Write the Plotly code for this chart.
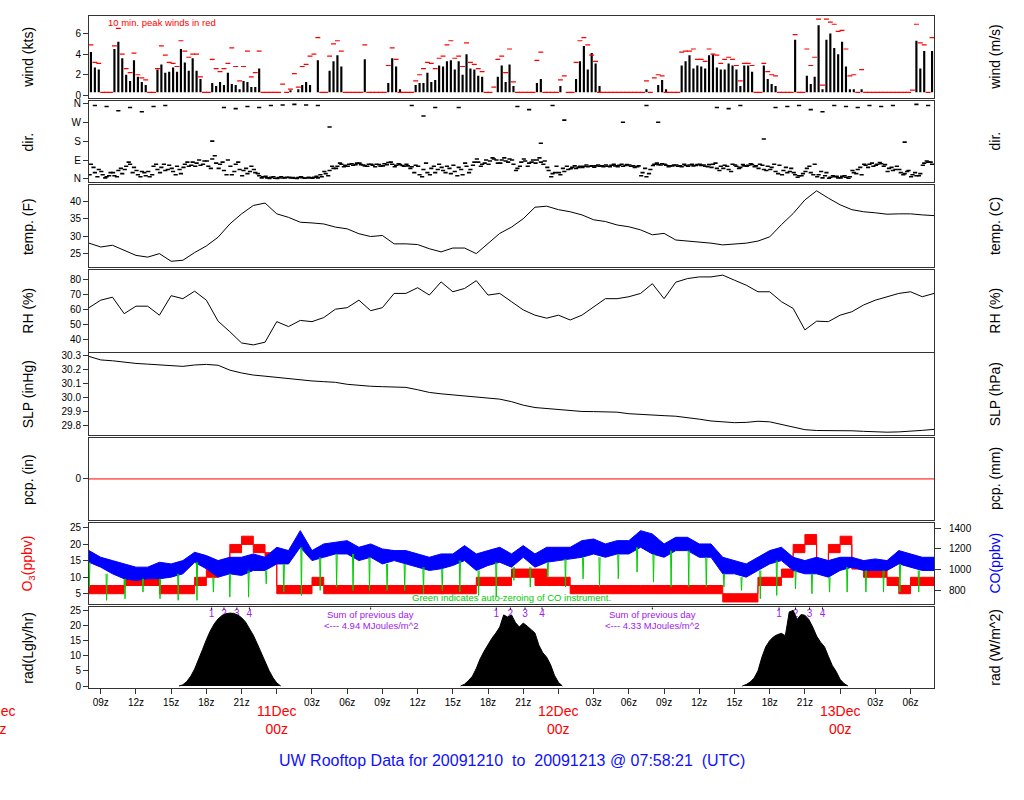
import plotly.graph_objects as go
import pandas as pd

# ---------------- data ----------------
START = pd.Timestamp("2009-12-10 08:00")
END = pd.Timestamp("2009-12-13 08:00")

# wind speed (kts), one value per 20 minutes (3 per hour)
wind_kts = [
    4.2, 2.7, 2.5,  0.3, 0.3, 0.3,  4.5, 5.2, 3.6,  2.0, 1.4, 3.4,
    1.8, 1.3, 1.0,  0.3, 0.3, 2.5,  3.0, 2.2, 2.3,  2.7, 2.3, 4.5,
    3.2, 2.4, 3.6,  2.4, 1.6, 0.3,  0.3, 1.2, 0.9,  1.3, 1.0, 2.2,
    1.1, 1.0, 0.6,  1.4, 1.3, 0.8,  0.8, 2.6, 0.3,  0.3, 0.3, 0.3,
    0.3, 0.3, 0.3,  0.5, 0.3, 0.6,  1.0, 1.3, 1.0,  0.3, 3.4, 0.3,
    0.3, 2.4, 3.3,  3.9, 2.8, 0.3,  0.3, 0.3, 0.3,  0.3, 3.5, 0.3,
    0.3, 0.3, 0.3,  0.3, 1.2, 3.6,  2.8, 0.6, 0.3,  0.3, 0.3, 1.0,
    1.2, 1.2, 2.2,  1.3, 1.5, 2.9,  2.8, 3.3, 3.4,  2.5, 3.3, 2.0,
    4.0, 2.6, 2.5,  1.9, 1.8, 0.3,  0.3, 0.3, 1.8,  2.9, 1.3, 3.0,
    0.9, 0.3, 0.3,  0.3, 0.3, 0.3,  1.2, 1.6, 0.3,  0.3, 0.3, 0.3,
    0.9, 0.3, 0.3,  0.3, 1.6, 3.3,  4.8, 2.5, 4.1,  3.1, 0.9, 0.3,
    0.3, 0.3, 0.3,  0.3, 0.3, 0.3,  0.3, 0.3, 0.3,  0.3, 0.6, 0.3,
    0.3, 1.0, 1.5,  0.6, 0.3, 0.3,  0.3, 2.9, 3.3,  3.9, 2.6, 2.9,
    2.8, 2.6, 3.9,  4.0, 2.7, 2.5,  2.5, 3.1, 2.9,  2.5, 0.9, 2.9,
    2.9, 2.3, 0.3,  0.3, 2.9, 1.6,  1.1, 0.9, 0.3,  0.3, 0.3, 0.3,
    5.4, 0.3, 0.3,  1.9, 1.1, 1.8,  6.8, 0.6, 5.4,  6.0, 4.6, 4.0,
    5.2, 2.8, 0.6,  0.6, 0.3, 0.6,  0.3, 0.3, 0.3,  0.3, 0.3, 0.3,
    0.3, 0.3, 0.3,  0.3, 0.3, 0.3,  0.3, 5.3, 2.6,  4.3, 0.3, 4.3,
]
# 10-minute peak wind (kts), one value per 20 minutes
peak_kts = [
    4.9, 3.2, 3.1,  0.3, 0.3, 0.3,  4.8, 6.5, 4.0,  2.6, 2.2, 4.1,
    2.0, 1.7, 1.5,  0.3, 0.3, 2.6,  4.8, 3.9, 3.2,  3.1, 2.8, 5.3,
    4.3, 3.7, 4.0,  4.0, 1.8, 0.3,  0.3, 3.5, 2.6,  2.3, 2.6, 3.1,
    4.6, 2.8, 1.4,  2.8, 4.3, 1.8,  2.2, 4.3, 0.3,  0.3, 0.3, 0.3,
    0.3, 1.1, 0.3,  0.6, 2.1, 0.8,  2.8, 3.0, 3.8,  4.0, 5.6, 0.3,
    0.3, 3.8, 5.0,  5.3, 4.3, 0.3,  0.3, 0.3, 0.3,  0.3, 4.9, 0.3,
    0.3, 0.3, 0.3,  0.3, 2.9, 4.6,  3.5, 0.3, 0.3,  0.3, 0.3, 1.4,
    2.0, 2.6, 3.2,  3.1, 2.6, 3.6,  3.8, 4.9, 5.3,  3.6, 3.8, 2.8,
    5.1, 3.2, 3.0,  2.6, 2.3, 0.3,  0.3, 0.8, 3.5,  3.8, 2.2, 4.5,
    1.3, 0.3, 0.3,  0.3, 0.3, 0.3,  3.4, 4.2, 0.3,  0.3, 0.3, 0.3,
    1.5, 1.9, 0.3,  0.3, 3.2, 5.3,  5.6, 4.9, 3.9,  3.3, 0.3, 0.3,
    0.3, 0.3, 0.3,  0.3, 0.3, 0.3,  0.3, 0.3, 0.3,  0.3, 1.4, 0.3,
    1.7, 2.0, 1.9,  0.3, 0.3, 0.3,  0.3, 4.2, 4.3,  4.3, 4.5, 3.5,
    3.5, 3.3, 4.5,  4.0, 3.9, 3.1,  3.5, 3.7, 3.5,  2.9, 1.4, 3.1,
    3.1, 2.9, 0.3,  0.3, 3.1, 2.3,  2.0, 1.9, 0.3,  0.3, 0.3, 0.3,
    5.9, 0.3, 0.3,  4.5, 2.9, 3.7,  7.4, 1.0, 7.4,  7.1, 6.9, 6.2,
    6.3, 4.5, 1.9,  2.0, 0.3, 2.5,  0.3, 0.3, 0.3,  0.3, 0.3, 0.3,
    0.3, 0.3, 0.3,  0.3, 0.3, 0.3,  0.5, 6.9, 5.1,  4.9, 0.3, 5.6,
]
CALM_KTS = 0.3

# wind direction (deg), main cluster, one per 20 minutes
dir_main = [
    70, 30, 45,  20, 10, 30,  15, 40, 25,  60, 70, 55,
    20, 35, 15,  10, 60, 45,  55, 40, 65,  35, 60, 25,
    70, 60, 80,  75, 65, 85,  60, 95, 75,  70, 40, 90,
    20, 70, 45,  40, 25, 60,  30, 15, 10,  5, 8, 3,
    6, 4, 8,  5, 3, 7,  6, 4, 5,  8, 5, 10,
    25, 40, 50,  60, 70, 65,  70, 65, 75,  68, 62, 70,
    65, 70, 60,  72, 78, 70,  65, 68, 60,  62, 58, 65,
    20, 45, 30,  50, 30, 70,  40, 60, 25,  35, 55, 20,
    60, 45, 80,  80, 70, 90,  85, 95, 75,  90, 85, 95,
    70, 50, 80,  85, 75, 90,  90, 80, 85,  40, 25, 60,
    20, 35, 45,  55, 50, 60,  60, 58, 62,  62, 60, 58,
    60, 65, 62,  65, 60, 68,  60, 55, 62,  30, 10, 45,
    70, 68, 72,  65, 62, 66,  60, 58, 64,  66, 62, 68,
    64, 60, 68,  70, 50, 60,  65, 45, 70,  60, 55, 62,
    65, 68, 62,  70, 45, 60,  55, 35, 65,  40, 30, 50,
    20, 15, 25,  50, 30, 70,  20, 5, 30,  8, 10, 5,
    12, 8, 10,  30, 45, 20,  65, 70, 60,  70, 72, 68,
    50, 40, 60,  30, 25, 40,  20, 15, 25,  75, 80, 70,
]
# wind direction (deg), spread of the same cluster, one per 20 minutes
dir_spread = [
    20, 55, 10,  35, 5, 15,  30, 10, 50,  45, 80, 30,
    40, 10, 30,  35, 20, 70,  30, 70, 45,  50, 20, 45,
    55, 80, 65,  60, 90, 70,  85, 50, 110,  50, 80, 20,
    60, 35, 80,  15, 50, 35,  45, 25, 5,  12, 2, 10,
    2, 10, 5,  8, 6, 2,  10, 3, 8,  3, 12, 20,
    35, 15, 60,  50, 75, 58,  60, 72, 68,  75, 66, 60,
    70, 58, 68,  62, 68, 80,  58, 72, 64,  70, 50, 30,
    60, 10, 75,  20, 60, 45,  55, 30, 50,  65, 15, 45,
    75, 30, 65,  95, 60, 75,  70, 100, 90,  75, 100, 80,
    90, 40, 60,  95, 60, 80,  75, 100, 70,  55, 10, 30,
    30, 50, 60,  48, 62, 55,  55, 66, 60,  56, 66, 62,
    66, 58, 70,  58, 70, 64,  66, 62, 58,  15, 50, 25,
    64, 75, 66,  70, 58, 62,  66, 62, 70,  60, 70, 64,
    70, 66, 58,  55, 75, 40,  50, 60, 35,  66, 50, 68,
    60, 72, 58,  50, 65, 40,  45, 70, 25,  20, 55, 35,
    30, 8, 15,  35, 60, 20,  10, 35, 15,  3, 15, 12,
    5, 15, 3,  40, 25, 55,  70, 55, 75,  65, 78, 60,
    35, 55, 45,  45, 20, 35,  10, 30, 15,  65, 85, 80,
]
# secondary direction readings, one per hour (None = no reading)
dir_alt = [
    350, 345, 325, 340, 320, 345, 350, None, None, None, 180, 340,
    335, 345, 340, 350, 352, 355, 352, 350, 247, None, None, None,
    None, None, None, 350, 300, 340, None, 340, None, None, None, None,
    345, 330, 170, 350, 280, None, None, None, None, 270, None, 350,
    270, None, None, None, None, 340, 335, 350, None, 190, 340, 345,
    350, 330, 320, 350, 345, 340, 350, 345, 350, 175, 355, 350,
]

# hourly series (73 values, 08z Dec 10 .. 08z Dec 13)
temp_f = [
    28.0, 26.9, 27.4, 26.0, 24.5, 24.0, 25.0, 22.8, 23.1, 25.3, 27.2, 29.7,
    33.5, 36.4, 38.8, 39.5, 36.4, 35.4, 34.0, 33.8, 33.5, 32.6, 32.1, 30.7,
    29.9, 30.2, 27.8, 27.8, 27.6, 26.4, 25.5, 26.6, 26.6, 25.0, 27.8, 30.8,
    32.6, 35.0, 38.3, 38.6, 37.6, 37.0, 36.1, 34.7, 34.2, 33.2, 32.7, 31.8,
    30.4, 30.8, 28.9, 28.6, 28.4, 28.0, 27.5, 27.7, 28.0, 28.6, 29.8, 33.3,
    36.5, 40.4, 43.0, 40.9, 39.0, 37.6, 37.0, 36.7, 36.3, 36.4, 36.4, 36.1,
    35.9,
]
rh_pct = [
    61, 66, 68, 57, 62, 62, 56, 69, 67, 72, 66, 52,
    45, 37.5, 36.2, 38.0, 51.7, 48.4, 52.5, 51.7, 54.4, 60, 61, 66,
    59, 61, 70.5, 70.5, 74.3, 69.4, 78.2, 71.6, 73.8, 79, 69.4, 70.5,
    65, 59.5, 56, 54, 56, 52.8, 56, 61.7, 67, 67, 68.3, 70.5,
    77, 67, 78, 80.4, 81.5, 81.5, 82.7, 79.3, 76, 71.6, 71.6, 65,
    60.5, 46.2, 52, 51.7, 56, 58.3, 62.8, 66, 68.3, 70.5, 71.6, 68.3,
    70.5,
]
slp_inhg = [
    30.293, 30.268, 30.262, 30.250, 30.243, 30.238, 30.232, 30.226, 30.222, 30.232,
    30.236, 30.230, 30.195, 30.175, 30.160, 30.152, 30.143, 30.135, 30.122, 30.118,
    30.113, 30.108, 30.094, 30.085, 30.080, 30.077, 30.075, 30.072, 30.055, 30.036,
    30.026, 30.018, 30.013, 30.005, 29.995, 29.988, 29.970, 29.945, 29.928, 29.920,
    29.914, 29.906, 29.900, 29.899, 29.897, 29.895, 29.884, 29.878, 29.874, 29.870,
    29.866, 29.858, 29.845, 29.832, 29.824, 29.820, 29.822, 29.830, 29.826, 29.808,
    29.790, 29.770, 29.764, 29.765, 29.766, 29.762, 29.758, 29.754, 29.752, 29.754,
    29.758, 29.765, 29.772,
]
pcp_in = [
    0, 0, 0, 0, 0, 0, 0, 0, 0, 0, 0, 0, 0, 0, 0, 0, 0, 0, 0, 0, 0, 0, 0, 0,
    0, 0, 0, 0, 0, 0, 0, 0, 0, 0, 0, 0, 0, 0, 0, 0, 0, 0, 0, 0, 0, 0, 0, 0,
    0, 0, 0, 0, 0, 0, 0, 0, 0, 0, 0, 0, 0, 0, 0, 0, 0, 0, 0, 0, 0, 0, 0, 0,
    0,
]
# ozone (ppbv) hourly lower / upper envelope
o3_lo = [
    5, 5, 5, 7.5, 7.5, 7.5, 5, 5, 5, 7.5, 10, 12.5,
    17.5, 20, 17.5, 15, 5, 5, 5, 7.5, 5, 5, 5, 5,
    5, 5, 5, 5, 5, 5, 5, 5, 5, 7.5, 7.5, 7.5,
    10, 10, 7.5, 7.5, 7.5, 5, 5, 5, 5, 5, 5, 5,
    5, 5, 5, 5, 5, 5, 2.5, 2.5, 2.5, 7.5, 7.5, 10,
    17.5, 20, 12.5, 17.5, 20, 12.5, 10, 10, 7.5, 5, 7.5, 7.5,
    7.5,
]
o3_hi = [
    7.5, 7.5, 7.5, 12.5, 12.5, 12.5, 7.5, 7.5, 7.5, 10, 12.5, 15,
    20, 22.5, 20, 17.5, 7.5, 7.5, 7.5, 10, 7.5, 7.5, 7.5, 7.5,
    7.5, 7.5, 7.5, 7.5, 7.5, 7.5, 7.5, 7.5, 7.5, 10, 10, 10,
    12.5, 12.5, 12.5, 10, 10, 7.5, 7.5, 7.5, 7.5, 7.5, 7.5, 7.5,
    7.5, 7.5, 7.5, 7.5, 7.5, 7.5, 5, 5, 5, 10, 10, 12.5,
    20, 23, 15, 20, 22.5, 15, 12.5, 12.5, 10, 7.5, 10, 10,
    10,
]
# carbon monoxide (ppbv) hourly lower / upper envelope
co_lo = [
    1071, 1024, 960, 912, 896, 912, 912, 928, 960, 1071, 1008, 928,
    960, 944, 992, 992, 1055, 1055, 1215, 1087, 1119, 1151, 1151, 1087,
    1119, 1055, 1087, 1055, 1024, 992, 1008, 1040, 1087, 992, 1040, 1071,
    1024, 1119, 1024, 1071, 1087, 1103, 1119, 1151, 1119, 1151, 1151, 1215,
    1151, 1119, 1183, 1183, 1119, 1119, 960, 960, 928, 992, 1055, 1087,
    992, 960, 960, 928, 992, 1024, 992, 992, 992, 1055, 1024, 992,
    992,
]
co_hi = [
    1183, 1119, 1087, 1055, 1024, 1024, 1071, 1055, 1087, 1167, 1135, 1087,
    1119, 1119, 1151, 1119, 1215, 1183, 1375, 1183, 1247, 1263, 1279, 1215,
    1247, 1199, 1183, 1183, 1151, 1119, 1151, 1151, 1231, 1151, 1183, 1215,
    1151, 1231, 1151, 1215, 1215, 1215, 1279, 1295, 1247, 1279, 1279, 1375,
    1343, 1247, 1311, 1311, 1247, 1247, 1119, 1087, 1055, 1119, 1183, 1215,
    1119, 1087, 1119, 1087, 1119, 1119, 1087, 1103, 1087, 1183, 1151, 1119,
    1119,
]
# CO auto-zero events: hours after start and minimum reading (ppbv)
zero_hours = [
    0.03, 1.5, 3.07, 4.6, 6.05, 7.6, 9.2, 10.6, 12.0, 13.6, 15.1, 16.6,
    18.1, 19.7, 21.1, 22.5, 23.9, 25.4, 26.9, 28.5, 30.1, 31.6, 33.2, 34.7,
    36.2, 37.6, 39.1, 40.6, 42.1, 43.5, 45.1, 46.7, 48.1, 49.6, 51.1, 52.6,
    54.1, 55.6, 57.2, 58.6, 60.2, 61.6, 63.1, 64.6, 66.2, 67.7, 69.1, 70.7,
]
zero_ppbv = [
    832, 705, 720, 784, 720, 705, 705, 784, 736, 736, 864, 784,
    752, 800, 832, 800, 800, 800, 800, 768, 800, 784, 752, 736,
    896, 832, 928, 832, 912, 832, 912, 976, 880, 832, 832, 832,
    832, 800, 720, 752, 816, 768, 784, 784, 784, 784, 784, 784,
]
# solar radiation (Lgly/hr), 20-minute values for each daylight period
rad_starts = ["2009-12-10 15:40", "2009-12-11 15:40", "2009-12-12 15:40"]
rad_day1 = [0, 0.4, 1.5, 3.2, 5.6, 8.6, 12.0, 15.3, 18.2, 20.5, 22.2, 23.3, 23.9, 24.1,
            24.0, 23.5, 22.6, 21.2, 19.2, 16.8, 14.0, 11.0, 8.0, 5.2, 2.8, 1.0, 0]
rad_day2 = [0, 0.6, 1.8, 3.2, 5.8, 9.0, 11.5, 13.8, 15.8, 17.5, 19.5, 23.5, 22.8, 23.5,
            21.0, 19.5, 20.8, 19.8, 18.6, 17.5, 13.5, 11.0, 9.5, 7.0, 3.5, 1.2, 0]
rad_day3 = [0, 0.5, 1.3, 2.6, 5.0, 9.5, 13.0, 15.0, 16.3, 17.0, 17.4, 16.6, 24.5, 25.0,
            22.0, 23.6, 23.4, 22.0, 19.5, 16.5, 14.5, 13.0, 9.8, 6.8, 4.8, 2.2, 0.8, 0]
# solar hour markers above the radiation panel
mark_times = ["2009-12-10 18:27", "2009-12-10 19:30", "2009-12-10 20:36", "2009-12-10 21:40",
              "2009-12-11 18:42", "2009-12-11 19:54", "2009-12-11 21:09", "2009-12-11 22:36",
              "2009-12-12 18:48", "2009-12-12 20:12", "2009-12-12 21:24", "2009-12-12 22:30"]
mark_labels = ["1", "2", "3", "4", "1", "2", "3", "4", "1", "2", "3", "4"]
sum_times = ["2009-12-11 08:00", "2009-12-12 08:00"]
sum_values = ["4.94", "4.33"]

tick_times = ["2009-12-10 09:00", "2009-12-10 12:00", "2009-12-10 15:00", "2009-12-10 18:00",
              "2009-12-10 21:00", "2009-12-11 03:00", "2009-12-11 06:00", "2009-12-11 09:00",
              "2009-12-11 12:00", "2009-12-11 15:00", "2009-12-11 18:00", "2009-12-11 21:00",
              "2009-12-12 03:00", "2009-12-12 06:00", "2009-12-12 09:00", "2009-12-12 12:00",
              "2009-12-12 15:00", "2009-12-12 18:00", "2009-12-12 21:00", "2009-12-13 03:00",
              "2009-12-13 06:00"]
tick_labels = ["09z", "12z", "15z", "18z", "21z", "03z", "06z", "09z", "12z", "15z", "18z",
               "21z", "03z", "06z", "09z", "12z", "15z", "18z", "21z", "03z", "06z"]
date_times = ["2009-12-10 00:00", "2009-12-11 00:00", "2009-12-12 00:00", "2009-12-13 00:00"]
date_labels = ["10Dec", "11Dec", "12Dec", "13Dec"]

TITLE = "UW Rooftop Data for 20091210\u00a0\u00a0to\u00a0\u00a020091213 @ 07:58:21\u00a0\u00a0(UTC)"

# ---------------- geometry / style ----------------
FONT = "Liberation Sans, Arial, Helvetica, sans-serif"
W, H = 1024, 800
ML, MR, MT, MB = 89, 90, 13, 112
PW, PH = W - ML - MR, H - MT - MB
panels_px = [(13, 95), (98, 180), (183, 265), (268, 350), (352, 434), (437, 519), (522, 604), (607, 688)]
KTS_PER_MS = 1.943844
HPA_PER_INHG = 33.8639
WM2_PER_LGLYHR = 11.622

t20 = [START + pd.Timedelta(minutes=20 * k + 10) for k in range(len(wind_kts))]
t20b = [START + pd.Timedelta(minutes=20 * k + 3) for k in range(len(dir_spread))]
thr = [START + pd.Timedelta(hours=k) for k in range(len(temp_f))]
thr_alt = [START + pd.Timedelta(minutes=60 * k + 30) for k in range(len(dir_alt))]

fig = go.Figure()

# 1 wind
fig.add_trace(go.Bar(x=t20, y=[w - CALM_KTS for w in wind_kts], base=CALM_KTS,
                     width=11 * 60 * 1000, marker=dict(color="black", line=dict(width=0)),
                     xaxis="x", yaxis="y"))
fig.add_trace(go.Scatter(x=t20, y=peak_kts, mode="markers",
                         marker=dict(symbol="line-ew", size=3.5, line=dict(color="red", width=1.2)),
                         xaxis="x", yaxis="y"))
# 2 direction
dmark = dict(symbol="line-ew", size=3, line=dict(color="black", width=1.6))
fig.add_trace(go.Scatter(x=t20, y=dir_main, mode="markers", marker=dmark, xaxis="x2", yaxis="y2"))
fig.add_trace(go.Scatter(x=t20b, y=dir_spread, mode="markers", marker=dmark, xaxis="x2", yaxis="y2"))
fig.add_trace(go.Scatter(x=thr_alt, y=dir_alt, mode="markers", marker=dmark, xaxis="x2", yaxis="y2"))
# 3 temp, 4 RH, 5 SLP, 6 pcp
fig.add_trace(go.Scatter(x=thr, y=temp_f, mode="lines", line=dict(color="black", width=1), xaxis="x3", yaxis="y3"))
fig.add_trace(go.Scatter(x=thr, y=rh_pct, mode="lines", line=dict(color="black", width=1), xaxis="x4", yaxis="y4"))
fig.add_trace(go.Scatter(x=thr, y=slp_inhg, mode="lines", line=dict(color="black", width=1), xaxis="x5", yaxis="y5"))
fig.add_trace(go.Scatter(x=thr, y=pcp_in, mode="lines", line=dict(color="red", width=1), xaxis="x6", yaxis="y6"))
# 7 ozone / CO
fig.add_trace(go.Scatter(x=thr, y=o3_lo, mode="lines", line=dict(color="red", width=1, shape="hv"),
                         xaxis="x7", yaxis="y7"))
fig.add_trace(go.Scatter(x=thr, y=o3_hi, mode="lines", line=dict(color="red", width=1, shape="hv"),
                         fill="tonexty", fillcolor="red", xaxis="x7", yaxis="y7"))
fig.add_trace(go.Scatter(x=thr, y=co_lo, mode="lines", line=dict(color="blue", width=1),
                         xaxis="x7", yaxis="y15"))
fig.add_trace(go.Scatter(x=thr, y=co_hi, mode="lines", line=dict(color="blue", width=1),
                         fill="tonexty", fillcolor="blue", xaxis="x7", yaxis="y15"))
gx, gy = [], []
for hz, zmin in zip(zero_hours, zero_ppbv):
    t = START + pd.Timedelta(hours=hz)
    lvl = co_lo[min(int(round(hz)), len(co_lo) - 1)]
    gx += [t - pd.Timedelta(minutes=3), t, t + pd.Timedelta(minutes=3), None]
    gy += [lvl, zmin, lvl, None]
fig.add_trace(go.Scatter(x=gx, y=gy, mode="lines", line=dict(color="#00cc00", width=1),
                         xaxis="x7", yaxis="y15", connectgaps=False))
# 8 radiation: marker labels first so the black fill covers them
fig.add_trace(go.Scatter(x=pd.to_datetime(mark_times), y=[23.7] * len(mark_times), mode="text",
                         text=mark_labels, textfont=dict(color="#a020f0", size=10, family=FONT),
                         xaxis="x8", yaxis="y8"))
mx, my = [], []
for t in list(pd.to_datetime(mark_times)) + list(pd.to_datetime(sum_times)):
    mx += [t, t, None]
    my += [26.0, 25.3, None]
fig.add_trace(go.Scatter(x=mx, y=my, mode="lines", line=dict(color="black", width=1),
                         xaxis="x8", yaxis="y8"))
for st, vals in zip(rad_starts, [rad_day1, rad_day2, rad_day3]):
    tt = [pd.Timestamp(st) + pd.Timedelta(minutes=20 * k) for k in range(len(vals))]
    fig.add_trace(go.Scatter(x=tt, y=vals, mode="lines", line=dict(color="black", width=1),
                             fill="tozeroy", fillcolor="black", xaxis="x8", yaxis="y8"))

# ---------------- axes ----------------
tickfont = dict(family=FONT, size=10, color="black")
left = [
    dict(range=[-0.22, 7.7], tickvals=[0, 2, 4, 6]),
    dict(range=[-16, 373], tickvals=[0, 90, 180, 270, 360], ticktext=["N", "E", "S", "W", "N"]),
    dict(range=[21.2, 44.6], tickvals=[25, 30, 35, 40]),
    dict(range=[31.8, 86.2], tickvals=[40, 50, 60, 70, 80]),
    dict(range=[29.731, 30.314], tickvals=[29.8, 29.9, 30.0, 30.1, 30.2, 30.3], tickformat=".1f"),
    dict(range=[-1, 1], tickvals=[0]),
    dict(range=[1.76, 26.6], tickvals=[5, 10, 15, 20, 25]),
    dict(range=[-0.66, 26.0], tickvals=[0, 5, 10, 15, 20, 25]),
]
right = [
    dict(range=[v / KTS_PER_MS for v in left[0]["range"]], tickvals=[0, 1, 2, 3]),
    dict(range=left[1]["range"], tickvals=[0, 90, 180, 270, 360], ticktext=["N", "E", "S", "W", "N"]),
    dict(range=[(v - 32) / 1.8 for v in left[2]["range"]], tickvals=[-4, -2, 0, 2, 4, 6]),
    dict(range=left[3]["range"], tickvals=[40, 50, 60, 70, 80]),
    dict(range=[v * HPA_PER_INHG for v in left[4]["range"]], tickvals=[1010, 1015, 1020, 1025]),
    dict(range=[v * 25.4 for v in left[5]["range"]], tickvals=[0]),
    dict(range=[666, 1451], tickvals=[800, 1000, 1200, 1400]),
    dict(range=[v * WM2_PER_LGLYHR for v in left[7]["range"]], tickvals=[0, 50, 100, 150, 200, 250, 300]),
]
left_titles = ["wind (kts)", "dir.", "temp. (F)", "RH (%)", "SLP (inHg)", "pcp. (in)",
               "O<sub>3</sub>(ppbv)", "rad(Lgly/hr)"]
right_titles = ["wind (m/s)", "dir.", "temp. (C)", "RH (%)", "SLP (hPa)", "pcp. (mm)",
                "CO(ppbv)", "rad (W/m^2)"]
left_colors = ["black"] * 6 + ["red", "black"]
right_colors = ["black"] * 6 + ["blue", "black"]

layout = dict(width=W, height=H, margin=dict(l=ML, r=MR, t=MT, b=MB),
              paper_bgcolor="white", plot_bgcolor="white", showlegend=False,
              font=dict(family=FONT, size=10, color="black"), annotations=[])
for i, (top, bot) in enumerate(panels_px):
    n = i + 1
    sfx = "" if n == 1 else str(n)
    dom = [(H - MB - bot) / PH, (H - MB - top) / PH]
    xa = dict(domain=[0, 1], range=[START, END], anchor="y" + sfx, showline=True, mirror=True,
              linecolor="#333", linewidth=1, showgrid=False, zeroline=False, type="date",
              showticklabels=False, ticks="")
    if n > 1:
        xa["matches"] = "x"
    if n == 8:
        xa.update(ticks="outside", ticklen=5, tickcolor="#333", showticklabels=True,
                  tickmode="array", tickvals=pd.to_datetime(tick_times), ticktext=tick_labels,
                  tickfont=tickfont,
                  minor=dict(ticks="outside", ticklen=5, tickcolor="#333",
                             tick0="2009-12-10 09:00", dtick=3 * 3600 * 1000, showgrid=False))
    layout["xaxis" + sfx] = xa
    ya = dict(domain=dom, anchor="x" + sfx, showline=True, mirror=True, linecolor="#333",
              linewidth=1, showgrid=False, zeroline=False, ticks="outside", ticklen=5,
              tickcolor="#333", tickfont=tickfont, fixedrange=True)
    ya.update(left[i])
    layout["yaxis" + sfx] = ya
    yr = dict(overlaying="y" + sfx, side="right", anchor="x" + sfx, showline=False, showgrid=False,
              zeroline=False, ticks="outside", ticklen=6, tickcolor="#333", tickfont=tickfont,
              ticklabelstandoff=6)
    yr.update(right[i])
    layout["yaxis" + str(n + 8)] = yr
    yc = (dom[0] + dom[1]) / 2
    layout["annotations"].append(dict(xref="paper", yref="paper", x=(28 - ML) / PW, y=yc,
                                      text=left_titles[i], textangle=-90, showarrow=False,
                                      font=dict(family=FONT, size=14, color=left_colors[i]),
                                      xanchor="center", yanchor="middle"))
    layout["annotations"].append(dict(xref="paper", yref="paper", x=(995 - ML) / PW, y=yc,
                                      text=right_titles[i], textangle=-90, showarrow=False,
                                      font=dict(family=FONT, size=14, color=right_colors[i]),
                                      xanchor="center", yanchor="middle"))

fig.update_layout(**layout)

# date labels under the time axis
span = (END - START).total_seconds()
for dt, lab in zip(date_times, date_labels):
    frac = (pd.Timestamp(dt) - START).total_seconds() / span
    fig.add_annotation(xref="paper", yref="paper", x=frac, y=(H - MB - 720) / PH,
                       text=lab + "<br>00z", showarrow=False, xanchor="center", yanchor="middle",
                       font=dict(family=FONT, size=14, color="red"))

fig.add_annotation(xref="paper", yref="paper", x=(106 - ML) / PW, y=(H - MB - 20) / PH,
                   text="10 min. peak winds in red", showarrow=False, xanchor="left",
                   yanchor="middle", font=dict(family=FONT, size=9.5, color="red"))
fig.add_annotation(xref="paper", yref="paper", x=0.5, y=(H - MB - 597) / PH,
                   text="Green indicates auto-zeroing of CO instrument.", showarrow=False,
                   xanchor="center", yanchor="middle", font=dict(family=FONT, size=9.5, color="#00cc00"))
for st, val in zip(sum_times, sum_values):
    fig.add_annotation(xref="x8", yref="y8", x=pd.Timestamp(st), y=23.7,
                       text="Sum of previous day", showarrow=False, xanchor="center",
                       yanchor="middle", font=dict(family=FONT, size=9.5, color="#a020f0"))
    fig.add_annotation(xref="x8", yref="y8", x=pd.Timestamp(st), y=20.0,
                       text="<--- " + val + " MJoules/m^2", showarrow=False, xanchor="center",
                       yanchor="middle", font=dict(family=FONT, size=9.5, color="#a020f0"))
fig.add_annotation(xref="paper", yref="paper", x=(512 - ML) / PW, y=(H - MB - 761) / PH,
                   text=TITLE, showarrow=False, xanchor="center", yanchor="middle",
                   font=dict(family=FONT, size=16, color="#1010ff"))

fig.write_html("out.html", config={"displayModeBar": False},
               post_script="document.body.style.margin='0';document.body.style.overflow='hidden';")
